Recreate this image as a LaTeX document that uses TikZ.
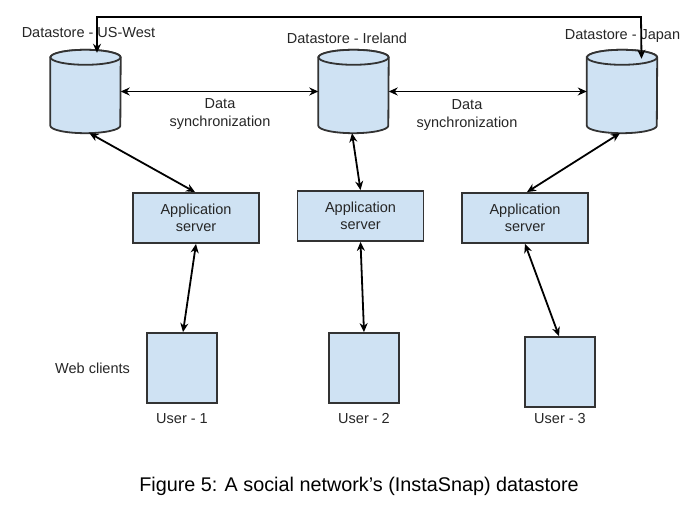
\documentclass[tikz,border=0pt]{standalone}
\usepackage{fontspec}
\setmainfont{Liberation Sans}
\usepackage{xcolor}
\usepackage{tikz}
\usetikzlibrary{shapes.geometric, arrows, arrows.meta, positioning}
\definecolor{boxblue}{HTML}{CFE2F3}
\definecolor{boxline}{HTML}{333333}
\tikzstyle{arrow} = [line width=1.8pt,<->,>={Stealth[length=9pt,width=8pt]}]
\tikzstyle{store} = [rectangle, minimum width=70pt, minimum height=83pt, inner sep=0pt]
\tikzstyle{storeline} = [draw=boxline, line width=1.8pt, fill=boxblue]
\tikzstyle{server} = [rectangle, minimum width=126pt, minimum height=50pt, text centered, draw=boxline, line width=1.8pt, fill=boxblue, align=center]
\tikzstyle{client} = [rectangle, minimum width=70pt, minimum height=70pt, draw=boxline, line width=1.8pt, fill=boxblue]
\tikzstyle{lbl} = [font=\fontsize{14.5}{17.5}\selectfont, text=black!85, align=center, inner sep=0pt]

\begin{document}
\begin{tikzpicture}[x=1pt, y=1pt, node distance=2cm]
    \useasboundingbox (0,0) rectangle (700,505);

    % Datastores
    \node[store] (usw) at (85.5,413.5) {};
    \node[store] (irl) at (353.5,413.5) {};
    \node[store] (jpn) at (622,413.5) {};
    \foreach \n in {usw, irl, jpn} {
        \draw[storeline] ([yshift=-7.5pt]\n.north west) -- ([yshift=7.5pt]\n.south west)
            arc[start angle=180, end angle=360, x radius=35, y radius=7.5]
            -- ([yshift=-7.5pt]\n.north east)
            arc[start angle=0, end angle=180, x radius=35, y radius=7.5] -- cycle;
        \draw[storeline] ([yshift=-7.5pt]\n.north) ellipse[x radius=35, y radius=7.5];
    }
    \node[lbl] (uswname) at (88.5,472) {Datastore - US-West};
    \node[lbl] (irlname) at (347,467) {Datastore - Ireland};
    \node[lbl] (jpnname) at (622.5,469) {Datastore - Japan};

    % Application servers
    \node[server, lbl, inner sep=3pt] (app1) at (196,287) {Application\\server};
    \node[server, lbl, inner sep=3pt] (app2) at (360.5,289) {Application\\server};
    \node[server, lbl, inner sep=3pt] (app3) at (525,287) {Application\\server};

    % Web clients
    \node[client] (u1) at (182,137) {};
    \node[client] (u2) at (364,137) {};
    \node[client] (u3) at (560,133) {};
    \node[lbl] (u1name) at (182,86) {User - 1};
    \node[lbl] (u2name) at (364,86) {User - 2};
    \node[lbl] (u3name) at (560,86) {User - 3};
    \node[lbl, left=16pt of u1] (web) {Web clients};

    % Synchronization
    \node[lbl] (sync1) at (220,391) {Data\\synchronization};
    \node[lbl] (sync2) at (467,390) {Data\\synchronization};
    \coordinate (loop) at (0,488);
    \draw[arrow] ([xshift=11.5pt,yshift=-3pt]usw.north) |- (loop -| 641,0) -- ([xshift=19.5pt,yshift=-9pt]jpn.north);
    \draw[arrow] (usw.east) -- (irl.west);
    \draw[arrow] (irl.east) -- (jpn.west);

    % Datastore to server
    \draw[arrow] ([xshift=4pt]usw.south) -- ([xshift=-1pt]app1.north);
    \draw[arrow] ([xshift=-1.5pt]irl.south) -- (app2.north);
    \draw[arrow] ([xshift=-2pt]jpn.south) -- ([xshift=2pt]app3.north);

    % Server to client
    \draw[arrow] (app1.south) -- ([xshift=1pt]u1.north);
    \draw[arrow] (app2.south) -- (u2.north);
    \draw[arrow] (app3.south) -- ([xshift=-1pt]u3.north);

    % Caption
    \node[font=\fontsize{19.8}{24}\selectfont] (caption) at (359,19) {Figure 5: A social network’s (InstaSnap) datastore};
\end{tikzpicture}
\end{document}
